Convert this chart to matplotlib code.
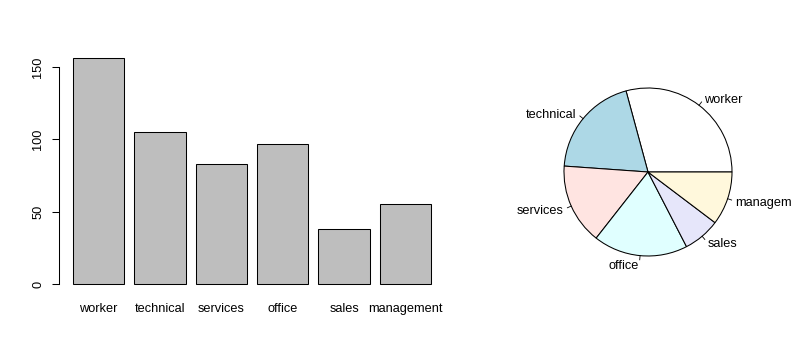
import numpy as np
import matplotlib
matplotlib.use("Agg")
from matplotlib import pyplot as plt

plt.rcParams['font.family'] = ['Liberation Sans', 'DejaVu Sans']

# occupation counts
categories = ["worker", "technical", "services", "office", "sales", "management"]
counts = [156, 105, 83, 97, 38, 55]
yticks = [0, 50, 100, 150]
pie_colors = ["white", "lightblue", "mistyrose", "lightcyan", "lavender", "cornsilk"]

W, H = 792, 360
fig = plt.figure(figsize=(W / 100, H / 100), dpi=100)
fs = 9.2

# --- bar plot (R barplot style) ---
ax = fig.add_axes([58.7 / W, 1 - 293 / H, (445.3 - 58.7) / W, (293 - 49.3) / H])
x = 0.7 + 1.2 * np.arange(len(categories))
ax.bar(x, counts, width=1.0, color="#bebebe", edgecolor="black", linewidth=0.75)
ax.set_xlim(-0.08, 7.48)
ax.set_ylim(-0.04 * max(counts), 1.04 * max(counts))
for s in ["top", "right", "bottom"]:
    ax.spines[s].set_visible(False)
ax.spines["left"].set_bounds(0, 150)
ax.spines["left"].set_linewidth(0.75)
ax.set_yticks(yticks)
ax.set_yticklabels([str(t) for t in yticks], rotation=90, va="center", fontsize=fs)
ax.tick_params(axis="y", length=5.2, width=0.75, pad=5.2)
ax.set_xticks(x)
ax.set_xticklabels(categories, fontsize=fs)
ax.tick_params(axis="x", length=0, pad=7.0)

# --- pie chart (R pie style) ---
r_px = 84
half = 100
cx, cy = 648, H - 172
pax = fig.add_axes([(cx - half) / W, (cy - half) / H, 2 * half / W, 2 * half / H])
pax.pie(counts, colors=pie_colors, startangle=0, counterclock=True, radius=1,
        wedgeprops=dict(edgecolor="black", linewidth=0.75))
pax.set_xlim(-half / r_px, half / r_px)
pax.set_ylim(-half / r_px, half / r_px)
pax.axis("off")
frac = np.cumsum([0] + counts) / sum(counts)
for i, lab in enumerate(categories):
    a = np.pi * (frac[i] + frac[i + 1])
    c, s = np.cos(a), np.sin(a)
    pax.plot([c, 1.05 * c], [s, 1.05 * s], color="black", linewidth=0.6, clip_on=False)
    pax.text(1.1 * c, 1.1 * s - 0.02, lab, ha="left" if c > 0 else "right", va="center",
             fontsize=fs, clip_on=False)

fig.savefig("out.png", dpi=100)
